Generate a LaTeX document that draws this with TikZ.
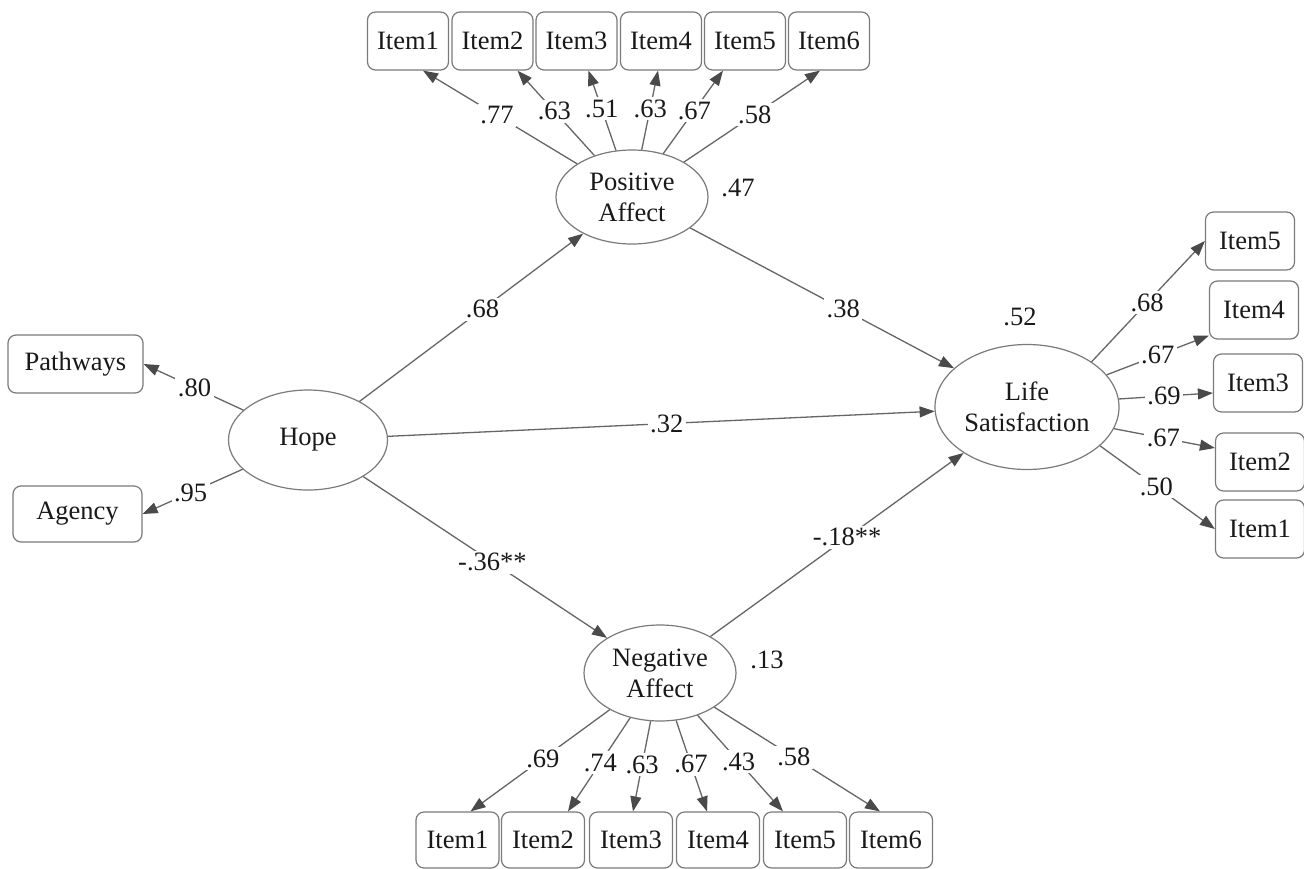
\documentclass[tikz,border=0pt]{standalone}
\usepackage{fontspec}
\setmainfont{Liberation Serif}
\usetikzlibrary{arrows.meta,shapes.geometric}
\definecolor{linec}{HTML}{666666}
\definecolor{boxc}{HTML}{7A7A7A}
\definecolor{arrc}{HTML}{4A4A4A}
\begin{document}
\begin{tikzpicture}[x=1pt,y=-1pt,
  every node/.style={font=\fontsize{26.5}{31}\selectfont, text=black!90},
  itembox/.style={draw=boxc, line width=1.2pt, rounded corners=8pt, minimum width=81pt, minimum height=58pt, inner sep=0pt, fill=white},
  latent/.style={draw=boxc, line width=1.2pt, ellipse, inner sep=0pt, align=center, fill=white},
  arr/.style={draw=linec, line width=1.3pt, -{Triangle[length=15pt,width=11pt,color=arrc]}},
  lbl/.style={fill=white, inner sep=2.5pt}]
\useasboundingbox (0,0) rectangle (1304,868);
\fill[white] (0,0) rectangle (1304,868);

% latent variables
\node[latent, minimum width=152pt, minimum height=94pt] (PA) at (632,197) {Positive\\Affect};
\node[latent, minimum width=159pt, minimum height=100pt] (Hope) at (308,440) {Hope};
\node[latent, minimum width=184pt, minimum height=125pt] (LS) at (1027,407) {Life\\Satisfaction};
\node[latent, minimum width=152pt, minimum height=96pt] (NA) at (660,673) {Negative\\Affect};

% indicators
\foreach \i/\x in {1/408,2/492.5,3/576.5,4/661,5/745,6/829}
  \node[itembox] (t\i) at (\x,41) {Item\i};
\foreach \i/\x in {1/457.5,2/543,3/631,4/718,5/805,6/891}
  \node[itembox, minimum width=83pt, minimum height=56pt] (b\i) at (\x,840) {Item\i};
\node[itembox, minimum width=89pt] (r5) at (1250,241) {Item5};
\node[itembox, minimum width=89pt] (r4) at (1254,310) {Item4};
\node[itembox, minimum width=89pt] (r3) at (1258,383) {Item3};
\node[itembox, minimum width=89pt] (r2) at (1260,462) {Item2};
\node[itembox, minimum width=89pt] (r1) at (1260,529) {Item1};
\node[itembox, minimum width=135pt] (Pw) at (75.5,364) {Pathways};
\node[itembox, minimum width=129pt, minimum height=56pt] (Ag) at (77.5,514) {Agency};

% R-squared
\node (rPA) at (738,188) {.47};
\node (rLS) at (1020,317) {.52};
\node (rNA) at (767,660) {.13};

% structural paths
\draw[arr] (Hope) -- node[lbl,pos=.55]{.68} (PA);
\draw[arr] (Hope) -- node[lbl,pos=.51]{.32} (LS);
\draw[arr] (PA) -- node[lbl,pos=.58]{.38} (LS);
\draw[arr] (Hope) -- node[lbl,pos=.53]{-.36**} (NA);
\draw[arr] (NA) -- node[lbl,pos=.54]{-.18**} (LS);

% Hope indicators
\draw[arr] (Hope) -- node[lbl,pos=.49]{.80} (Pw.east);
\draw[arr] (Hope) -- node[lbl,pos=.52]{.95} (Ag.east);

% Positive affect indicators
\draw[arr] (PA) -- node[lbl,pos=.52]{.77} ([xshift=15pt]t1.south);
\draw[arr] (PA) -- node[lbl,pos=.52]{.63} ([xshift=25pt]t2.south);
\draw[arr] (PA) -- node[lbl,pos=.52]{.51} ([xshift=12pt]t3.south);
\draw[arr] (PA) -- node[lbl,pos=.52]{.63} ([xshift=-3pt]t4.south);
\draw[arr] (PA) -- node[lbl,pos=.52]{.67} ([xshift=-22pt]t5.south);
\draw[arr] (PA) -- node[lbl,pos=.52]{.58} ([xshift=-9pt]t6.south);

% Negative affect indicators
\draw[arr] (NA) -- node[lbl,pos=.48]{.69} ([xshift=13pt]b1.north);
\draw[arr] (NA) -- node[lbl,pos=.48]{.74} ([xshift=25pt]b2.north);
\draw[arr] (NA) -- node[lbl,pos=.48]{.63} ([xshift=2pt]b3.north);
\draw[arr] (NA) -- node[lbl,pos=.48]{.67} ([xshift=-11pt]b4.north);
\draw[arr] (NA) -- node[lbl,pos=.48]{.43} ([xshift=-22pt]b5.north);
\draw[arr] (NA) -- node[lbl,pos=.48]{.58} ([xshift=-11pt]b6.north);

% Life satisfaction indicators
\draw[arr] (LS.35) -- node[lbl,pos=.49]{.68} (r5.west);
\draw[arr] (LS.22) -- node[lbl,pos=.5]{.67} ([yshift=4pt]r4.south west);
\draw[arr] (LS.5) -- node[lbl,pos=.48]{.69} ([yshift=-10pt]r3.west);
\draw[arr] (LS.-14) -- node[lbl,pos=.49]{.67} ([yshift=14pt]r2.west);
\draw[arr] (LS.-28) -- node[lbl,pos=.49]{.50} (r1.west);
\end{tikzpicture}
\end{document}
